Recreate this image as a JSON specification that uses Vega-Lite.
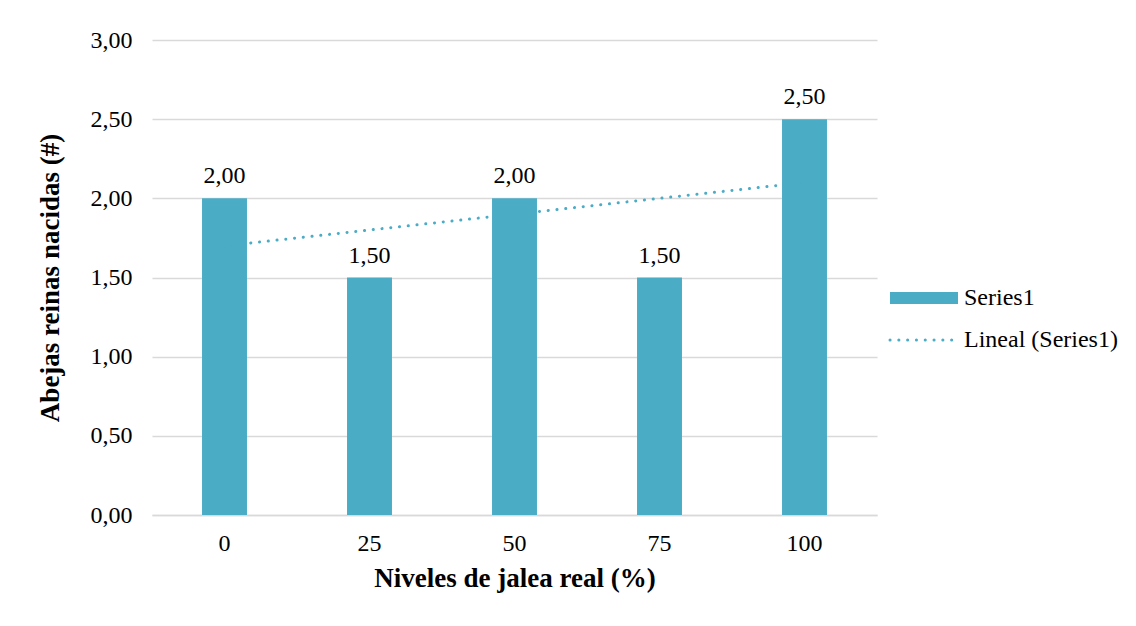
{
  "$schema": "https://vega.github.io/schema/vega-lite/v6.json",
  "width": 725,
  "height": 475,
  "autosize": {"type": "none"},
  "padding": {"left": 152, "top": 40, "right": 259, "bottom": 111},
  "background": "white",
  "config": {
    "font": "Liberation Serif",
    "view": {"stroke": null},
    "locale": {"number": {"decimal": ",", "thousands": ".", "grouping": [3], "currency": ["", "€"]}},
    "axis": {"labelFont": "Liberation Serif", "titleFont": "Liberation Serif", "labelColor": "#000000", "titleColor": "#000000"},
    "legend": {"labelFont": "Liberation Serif"}
  },
  "data": {"values": [
    {"nivel": 0, "value": 2.0, "serie": "Series1"},
    {"nivel": 25, "value": 1.5, "serie": "Series1"},
    {"nivel": 50, "value": 2.0, "serie": "Series1"},
    {"nivel": 75, "value": 1.5, "serie": "Series1"},
    {"nivel": 100, "value": 2.5, "serie": "Series1"}
  ]},
  "encoding": {
    "x": {
      "field": "nivel", "type": "ordinal",
      "scale": {"paddingInner": 0.69, "paddingOuter": 0.345},
      "axis": {
        "title": "Niveles de jalea real (%)",
        "titleFontSize": 27, "titleFontWeight": "bold", "titlePadding": 10,
        "labelFontSize": 24, "labelAngle": 0, "labelPadding": 16,
        "ticks": false, "domainColor": "#d9d9d9", "domainWidth": 1.3, "grid": false
      }
    }
  },
  "layer": [
    {
      "mark": {"type": "bar", "color": "#4BACC6"},
      "encoding": {
        "y": {
          "field": "value", "type": "quantitative",
          "scale": {"domain": [0, 3]},
          "axis": {
            "title": "Abejas reinas nacidas (#)",
            "titleFontSize": 27, "titleFontWeight": "bold", "titlePadding": 26,
            "labelFontSize": 24, "labelPadding": 20, "format": ".2f",
            "values": [0, 0.5, 1, 1.5, 2, 2.5, 3],
            "ticks": false, "domain": false, "gridColor": "#d9d9d9", "gridWidth": 1.3
          }
        },
        "color": {
          "field": "serie", "type": "nominal",
          "scale": {"domain": ["Series1", "Lineal (Series1)"], "range": ["#4BACC6", "#4BACC6"]},
          "legend": {
            "title": null, "orient": "none", "legendX": 760, "legendY": 246,
            "labelFont": "Liberation Serif", "labelFontSize": 24, "labelColor": "#000000",
            "labelOffset": 28, "rowPadding": 18, "symbolSize": 4624,
            "encode": {"symbols": {"update": {
              "shape": {"signal": "datum.value === 'Series1' ? 'M-1,-0.18H1V0.18H-1Z' : 'M-1,0H1'"},
              "fill": {"signal": "datum.value === 'Series1' ? '#4BACC6' : 'transparent'"},
              "stroke": {"value": "#4BACC6"},
              "strokeWidth": {"signal": "datum.value === 'Series1' ? 0 : 3"},
              "strokeDash": {"signal": "datum.value === 'Series1' ? [1, 0] : [0.1, 8.7]"},
              "strokeCap": {"value": "round"},
              "size": {"value": 4624},
              "opacity": {"value": 1}
            }}}
          }
        }
      }
    },
    {
      "mark": {"type": "text", "baseline": "bottom", "dy": -10, "fontSize": 24, "font": "Liberation Serif", "color": "#000000"},
      "encoding": {
        "y": {"field": "value", "type": "quantitative"},
        "text": {"field": "value", "type": "quantitative", "format": ".2f"}
      }
    },
    {
      "transform": [{"regression": "value", "on": "nivel", "method": "linear"}],
      "mark": {"type": "line", "strokeWidth": 3, "strokeDash": [0.1, 8.7], "strokeCap": "round", "color": "#4BACC6"},
      "encoding": {
        "y": {"field": "value", "type": "quantitative"},
        "color": {"datum": "Lineal (Series1)"}
      }
    }
  ]
}
